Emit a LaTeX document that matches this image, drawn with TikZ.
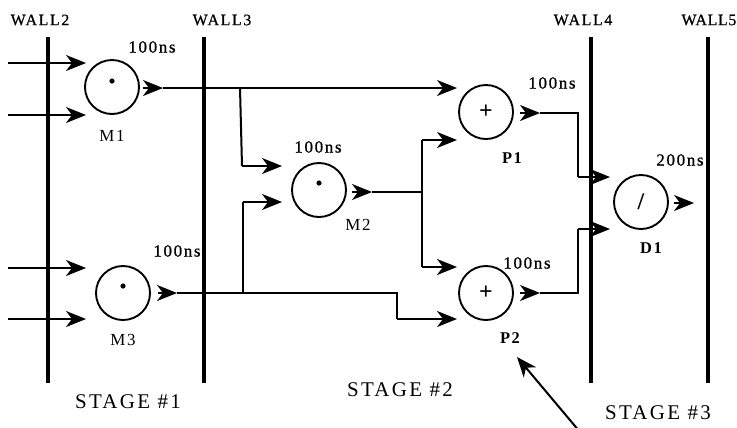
\documentclass[tikz,border=0pt]{standalone}
\usepackage{fontspec}
\setmainfont{Liberation Serif}
\newfontfamily\spfont[LetterSpace=10]{Liberation Serif}
\newfontfamily\spbfont[LetterSpace=10,FakeBold=0.8]{Liberation Serif}
\newfontfamily\stfont[LetterSpace=11]{Liberation Serif}
\newfontfamily\spnfont[LetterSpace=4,FakeBold=0.8]{Liberation Serif}
\usetikzlibrary{arrows.meta,calc}
\begin{document}
\begin{tikzpicture}[x=1bp,y=-1bp,
  wall/.style={line width=4bp},
  conn/.style={line width=2bp},
  arr/.style={line width=2bp,-{Stealth[length=20bp,width=16bp,inset=6bp]}},
  unit/.style={circle,draw,line width=1.9bp,minimum size=54bp,inner sep=0pt,
    font=\bfseries\fontsize{24}{24}\selectfont},
  wl/.style={inner sep=0pt,font=\spbfont\fontsize{16}{16}\selectfont},
  tl/.style={inner sep=0pt,font=\spbfont\fontsize{17}{17}\selectfont},
  nm/.style={inner sep=0pt,font=\spfont\fontsize{17}{17}\selectfont},
  nmb/.style={inner sep=0pt,font=\spfont\bfseries\fontsize{16.5}{16.5}\selectfont},
  sl/.style={inner sep=0pt,font=\stfont\fontsize{21}{21}\selectfont},
  dotm/.style={fill=black}
]
\useasboundingbox (0,0) rectangle (737,427);

% walls
\coordinate (w2t) at (48,37);  \coordinate (w2b) at (48,383);
\coordinate (w3t) at (204,37); \coordinate (w3b) at (204,383);
\coordinate (w4t) at (591,37); \coordinate (w4b) at (591,383);
\coordinate (w5t) at (708,37); \coordinate (w5b) at (708,383);
\draw[wall] (w2t) -- (w2b);
\draw[wall] (w3t) -- (w3b);
\draw[wall,line width=4.5bp] (w4t) -- (w4b);
\draw[wall] (w5t) -- (w5b);

\node[wl] (lw2) at (40,20) {WALL2};
\node[wl] (lw3) at (222,20) {WALL3};
\node[wl] (lw4) at (583,20) {WALL4};
\node[wl,font=\spnfont\fontsize{16}{16}\selectfont,anchor=east] (lw5) at (736.5,20) {WALL5};

% units
\node[unit] (M1) at (112,87) {};
\node[unit] (M2) at (319,190) {};
\node[unit] (M3) at (123,293) {};
\node[unit] (P1) at (486,112) {+};
\node[unit] (P2) at (486,293) {+};
\node[unit] (D1) at (641,202) {/};
\fill[dotm] ($(M1)+(0,-6)$) circle (2.6bp);
\fill[dotm] ($(M2)+(0,-7)$) circle (2.6bp);
\fill[dotm] ($(M3)+(0,-7)$) circle (2.6bp);

% names
\node[nm] (nM1) at (112,136) {M1};
\node[nm] (nM2) at (358,225) {M2};
\node[nm] (nM3) at (123,340) {M3};
\node[nmb] (nP1) at (512,158) {P1};
\node[nmb] (nP2) at (510,338) {P2};
\node[nmb] (nD1) at (651,248) {D1};

% delays
\node[tl] (tM1) at (152,47) {100ns};
\node[tl] (tM2) at (318,147) {100ns};
\node[tl] (tM3) at (177,251) {100ns};
\node[tl] (tP1) at (552,83) {100ns};
\node[tl] (tP2) at (527,263) {100ns};
\node[tl] (tD1) at (680,160) {200ns};

% stages
\node[sl] (s1) at (128,402) {STAGE \#1};
\node[sl] (s2) at (400,390) {STAGE \#2};
\node[sl] (s3) at (658,413) {STAGE \#3};

% primary inputs
\coordinate (i1) at (8,63);  \coordinate (i2) at (8,115);
\coordinate (i3) at (8,268); \coordinate (i4) at (8,319);
\draw[arr] (i1) -- ($(M1)+(-26,-24)$);
\draw[arr] (i2) -- ($(M1)+(-26,28)$);
\draw[arr] (i3) -- ($(M3)+(-37,-25)$);
\draw[arr] (i4) -- ($(M3)+(-37,26)$);

% outputs of M1
\coordinate (M1o) at ($(M1)+(51,1)$);
\draw[arr] ($(M1)+(31,1)$) -- (M1o);
\coordinate (b1) at (240,88);
\coordinate (b1d) at (242,166);
\draw[conn] (M1o) -- (b1);
\draw[arr] (b1) -- ($(P1)+(-29,-24)$);
\draw[conn] (b1) -- (b1d);
\draw[arr] (b1d) -- ($(M2)+(-37,-24)$);

% outputs of M3
\coordinate (M3o) at ($(M3)+(54,0)$);
\draw[arr] ($(M3)+(35,0)$) -- (M3o);
\coordinate (b3) at (243,293);
\coordinate (b3u) at (243,202);
\coordinate (c3) at (397,293);
\coordinate (c3d) at (397,319);
\draw[conn] (M3o) -- (c3) -- (c3d);
\draw[conn] (b3) -- (b3u);
\draw[arr] (b3u) -- ($(M2)+(-37,12)$);
\draw[arr] (c3d) -- ($(P2)+(-29,26)$);

% outputs of M2
\coordinate (M2o) at ($(M2)+(53,2)$);
\draw[arr] ($(M2)+(33,2)$) -- (M2o);
\coordinate (b2) at (422,192);
\coordinate (b2u) at (422,140);
\coordinate (b2d) at (422,267);
\draw[conn] (M2o) -- (b2);
\draw[conn] (b2u) -- (b2d);
\draw[arr] (b2u) -- ($(P1)+(-29,28)$);
\draw[arr] (b2d) -- ($(P2)+(-29,-26)$);

% outputs of P1, P2
\coordinate (P1o) at ($(P1)+(54,1)$);
\draw[arr] ($(P1)+(34,1)$) -- (P1o);
\coordinate (p1c) at (578,113);
\coordinate (p1d) at (578,177);
\draw[conn] (P1o) -- (p1c) -- (p1d);
\draw[arr] (p1d) -- ($(D1)+(-31,-25)$);

\coordinate (P2o) at ($(P2)+(54,0)$);
\draw[arr] ($(P2)+(34,0)$) -- (P2o);
\coordinate (p2c) at (578,293);
\coordinate (p2u) at (578,229);
\draw[conn] (P2o) -- (p2c) -- (p2u);
\draw[arr] (p2u) -- ($(D1)+(-31,27)$);

% output of D1
\draw[arr] ($(D1)+(33,1)$) -- ($(D1)+(53,1)$);

% pointer
\coordinate (ptr) at (580,432);
\draw[arr] (ptr) -- ($(nP2)+(7,19)$);
\end{tikzpicture}
\end{document}
